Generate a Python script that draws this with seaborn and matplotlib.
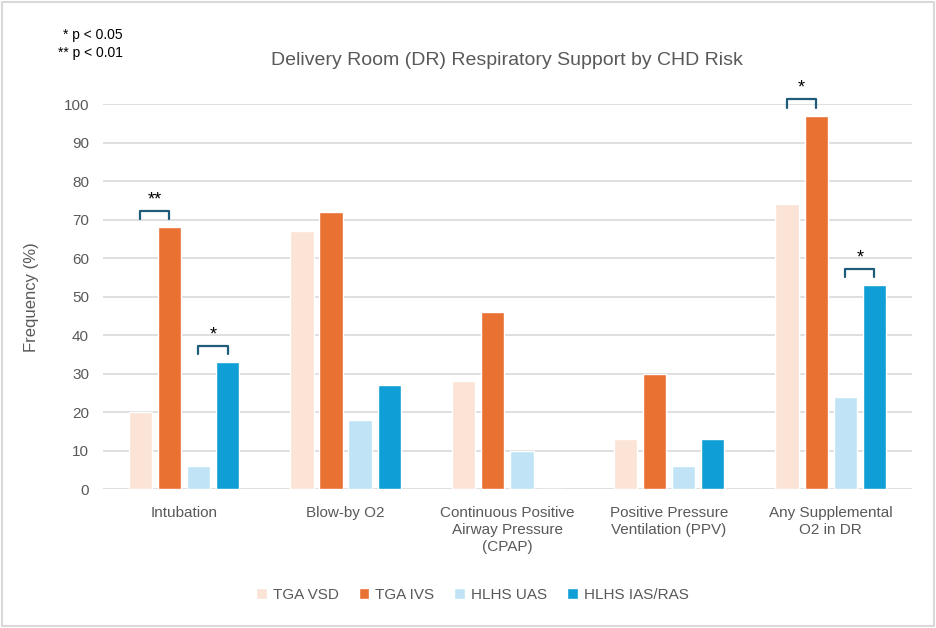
import matplotlib
matplotlib.use("Agg")
import matplotlib.pyplot as plt
import seaborn as sns
import pandas as pd
from matplotlib.patches import Rectangle

categories = ["Intubation", "Blow-by O2", "Continuous Positive\nAirway Pressure\n(CPAP)",
              "Positive Pressure\nVentilation (PPV)", "Any Supplemental\nO2 in DR"]
groups = ["TGA VSD", "TGA IVS", "HLHS UAS", "HLHS IAS/RAS"]
tga_vsd = [20, 67, 28, 13, 74]
tga_ivs = [68, 72, 46, 30, 97]
hlhs_uas = [6, 18, 10, 6, 24]
hlhs_ias = [33, 27, 0, 13, 53]
colors = ["#FBE3D6", "#E97132", "#C0E4F5", "#0F9ED5"]
yticks = list(range(0, 101, 10))

# significance brackets: (category index, left group index, right group index, label)
sig = [(0, 0, 1, "**"), (0, 2, 3, "*"), (4, 0, 1, "*"), (4, 2, 3, "*")]

series = [tga_vsd, tga_ivs, hlhs_uas, hlhs_ias]
rows = []
for g, vals in zip(groups, series):
    for c, v in zip(categories, vals):
        rows.append({"Category": c, "Group": g, "Value": v})
df = pd.DataFrame(rows)

sns.set_theme(style="white")
plt.rcParams["font.family"] = ["Liberation Sans", "DejaVu Sans"]
grey = "#595959"

fig = plt.figure(figsize=(9.36, 6.28), dpi=100)
ax = fig.add_axes([0.110, 0.221, 0.864, 0.613])

sns.barplot(data=df, x="Category", y="Value", hue="Group", hue_order=groups,
            palette=colors, width=0.72, gap=0.2, ax=ax, legend=True, saturation=1)

ax.set_ylim(0, 100)
ax.set_xlim(-0.5, 4.5)
ax.set_yticks(yticks)
ax.yaxis.grid(True, color="#D9D9D9", linewidth=1.2)
ax.set_axisbelow(True)
for s in ax.spines.values():
    s.set_visible(False)
ax.tick_params(axis="both", length=0, colors=grey, labelsize=11)
ax.tick_params(axis="x", pad=12)
ax.tick_params(axis="y", pad=10)
ax.set_xlabel("")
ax.set_ylabel("Frequency (%)", color=grey, fontsize=12, labelpad=18)
for lbl in ax.get_xticklabels():
    lbl.set_linespacing(1.3)

ax.set_title("Delivery Room (DR) Respiratory Support by CHD Risk", color=grey,
             fontsize=14, pad=28)

# brackets
bar_w_slot = 0.72 / 4
for ci, g1, g2, lab in sig:
    x1 = ci - 0.36 + bar_w_slot * (g1 + 0.5)
    x2 = ci - 0.36 + bar_w_slot * (g2 + 0.5)
    top = max(series[g1][ci], series[g2][ci]) + 4.3
    ax.plot([x1, x1, x2, x2], [top - 2.2, top, top, top - 2.2], color="#1F5C7A",
            linewidth=1.6, clip_on=False)
    ax.text((x1 + x2) / 2, top + 0.6, lab, ha="center", va="bottom", fontsize=13,
            color="black", clip_on=False)

leg = ax.legend(loc="upper center", bbox_to_anchor=(0.457, -0.22), ncol=4, frameon=False,
                fontsize=11, handlelength=0.7, handleheight=0.7, columnspacing=1.3,
                handletextpad=0.4)
for t in leg.get_texts():
    t.set_color(grey)

fig.text(0.131, 0.944, "* p < 0.05", ha="right", va="center", fontsize=10, color="black")
fig.text(0.131, 0.915, "** p < 0.01", ha="right", va="center", fontsize=10, color="black")

fig.patches.append(Rectangle((0.002, 0.003), 0.996, 0.994, transform=fig.transFigure,
                             fill=False, edgecolor="#D9D9D9", linewidth=1.5))

fig.savefig("out.png", dpi=100)
